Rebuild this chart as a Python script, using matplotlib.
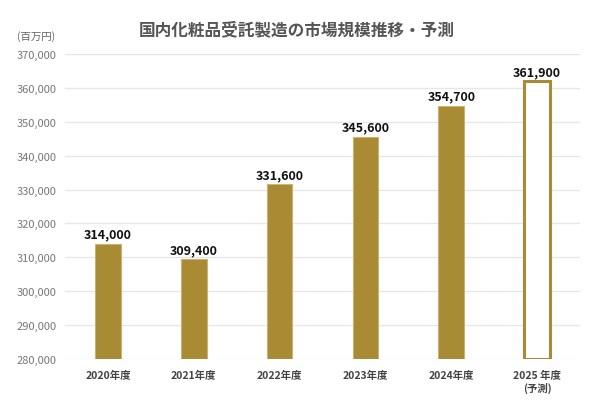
import matplotlib
matplotlib.use("Agg")
import matplotlib.pyplot as plt
from matplotlib.ticker import FuncFormatter

plt.rcParams['font.family'] = ['Noto Sans CJK JP', 'DejaVu Sans']

categories = ["2020年度", "2021年度", "2022年度", "2023年度", "2024年度", "2025 年度\n(予測)"]
values = [314000, 309400, 331600, 345600, 354700, 361900]
forecast = [False, False, False, False, False, True]
title = "国内化粧品受託製造の市場規模推移・予測"
unit = "(百万円)"

gold = "#A88B33"

fig = plt.figure(figsize=(5.89, 4.06), dpi=100)
ax = fig.add_axes([65/589, 1-360/406, 515/589, 305/406])

base = 280000
x = list(range(len(categories)))
for i, (v, f) in enumerate(zip(values, forecast)):
    if f:
        ax.bar(i, v - base, bottom=base, width=0.3, facecolor="white", edgecolor=gold, linewidth=2.2, zorder=3)
    else:
        ax.bar(i, v - base, bottom=base, width=0.3, facecolor=gold, edgecolor="#C9B36E", linewidth=0.8, zorder=3)
    ax.text(i, v + 900, f"{v:,}", ha="center", va="bottom", fontsize=9, fontweight="bold", color="#111111", zorder=4)

ax.set_ylim(280000, 370000)
ax.set_xlim(-0.5, 5.5)
ax.set_yticks(range(280000, 370001, 10000))
ax.yaxis.set_major_formatter(FuncFormatter(lambda v, p: f"{int(v):,}"))
ax.set_xticks(x)
ax.set_xticklabels(categories)
for lbl in ax.get_xticklabels():
    lbl.set_fontsize(7.5)
    lbl.set_color("#444444")
    lbl.set_fontweight("bold")
    lbl.set_linespacing(1.2)
for lbl in ax.get_yticklabels():
    lbl.set_fontsize(8)
    lbl.set_color("#777777")

ax.grid(axis="y", color="#E6E6E6", linewidth=0.9, zorder=0)
for s in ax.spines.values():
    s.set_visible(False)
ax.tick_params(axis="both", length=0)
ax.tick_params(axis="y", pad=6)
ax.tick_params(axis="x", pad=8)

fig.text(297/589, 1-30/406, title, ha="center", va="center", fontsize=12, fontweight="bold", color="#555555")
fig.text(36/589, 1-37/406, unit, ha="center", va="center", fontsize=7.5, color="#666666")

fig.savefig("out.png", dpi=100, facecolor="white")
